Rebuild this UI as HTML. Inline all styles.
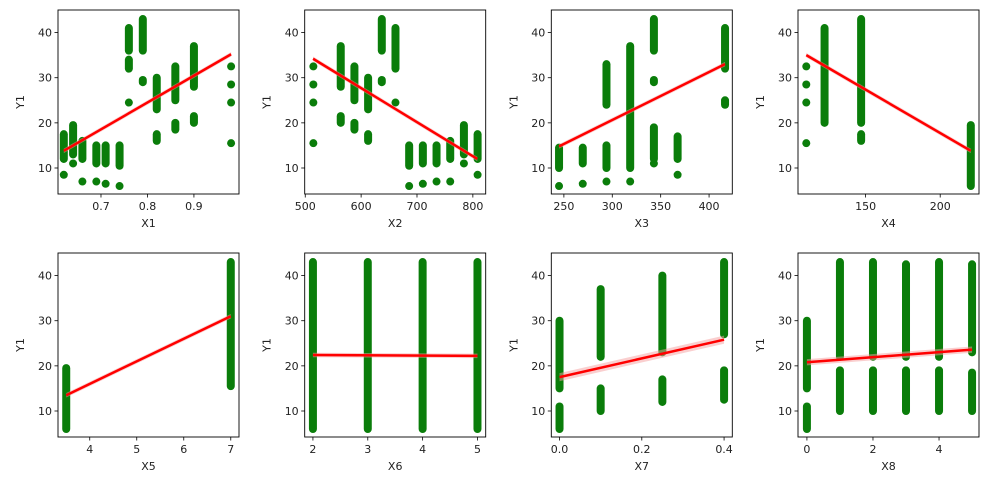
<!DOCTYPE html>
<html><head><meta charset="utf-8"><style>
html,body{margin:0;padding:0;background:#fff;}
svg text{font-family:"DejaVu Sans","Liberation Sans",sans-serif;font-size:11px;fill:#222;}
</style></head><body>
<svg id="s" width="989" height="490" xmlns="http://www.w3.org/2000/svg"></svg>
<script>
const W=181,H=184;
const lefts=[58,304.7,551.3,798], tops=[10,253];
const ylim=[4.24,45];
const P=[
 {n:'X1',xl:[0.6075,0.997],t:[[0.7,'0.7'],[0.8,'0.8'],[0.9,'0.9']],
  c:[[0.62,[[12,17.5],[8.5,8.5]]],[0.64,[[11,11],[13,19.5]]],[0.66,[[12,16],[7,7]]],[0.69,[[11,15],[7,7]]],[0.71,[[11,15],[6.5,6.5]]],[0.74,[[10.5,15],[6,6]]],[0.76,[[32,34],[36,41],[24.5,24.5]]],[0.79,[[36,43],[29,29.5]]],[0.82,[[23,30],[16,17.5]]],[0.86,[[25,32.5],[18.5,20]]],[0.90,[[28,37],[20,21.5]]],[0.98,[[32.5,32.5],[28.5,28.5],[24.5,24.5],[15.5,15.5]]]],
  l:[[0.62,13.8],[0.98,35.2]]},
 {n:'X2',xl:[499,823],t:[[500,'500'],[600,'600'],[700,'700'],[800,'800']],
  c:[[514.5,[[32.5,32.5],[28.5,28.5],[24.5,24.5],[15.5,15.5]]],[563.5,[[28,37],[20,21.5]]],[588,[[25,32.5],[18.5,20]]],[612.5,[[23,30],[16,17.5]]],[637,[[36,43],[29,29.5]]],[661.5,[[32,41],[24.5,24.5]]],[686,[[10.5,15],[6,6]]],[710.5,[[11,15],[6.5,6.5]]],[735,[[11,15],[7,7]]],[759.5,[[12,16],[7,7]]],[784,[[11,11],[13,19.5]]],[808.5,[[12,17.5],[8.5,8.5]]]],
  l:[[514,34.2],[808,12]]},
 {n:'X3',xl:[237,424],t:[[250,'250'],[300,'300'],[350,'350'],[400,'400']],
  c:[[245,[[6,6],[10,14.5]]],[269.5,[[6.5,6.5],[11,14.5]]],[294,[[7,7],[10,15],[24,33]]],[318.5,[[7,7],[10,37]]],[343,[[11,11],[12,19],[29,29.5],[36,43]]],[367.5,[[8.5,8.5],[12,17]]],[416.5,[[24,25],[32,41]]]],
  l:[[245,14.8],[416.5,33]]},
 {n:'X4',xl:[104.7,226],t:[[150,'150'],[200,'200']],
  c:[[110.25,[[15.5,15.5],[24.5,24.5],[28.5,28.5],[32.5,32.5]]],[122.5,[[20,41]]],[147,[[16,17.5],[20,43]]],[220.5,[[6,19.5]]]],
  l:[[110.25,35],[220.5,13.8]]},
 {n:'X5',xl:[3.325,7.175],t:[[4,'4'],[5,'5'],[6,'6'],[7,'7']],
  c:[[3.5,[[6,19.5]]],[7,[[15.5,43]]]],l:[[3.5,13.5],[7,31]]},
 {n:'X6',xl:[1.85,5.15],t:[[2,'2'],[3,'3'],[4,'4'],[5,'5']],
  c:[[2,[[6,43]]],[3,[[6,43]]],[4,[[6,43]]],[5,[[6,43]]]],l:[[2,22.4],[5,22.2]]},
 {n:'X7',xl:[-0.02,0.42],t:[[0,'0.0'],[0.2,'0.2'],[0.4,'0.4']],
  c:[[0,[[6,11],[15,30]]],[0.1,[[10,15],[22,37]]],[0.25,[[12,17],[23,40]]],[0.4,[[12.5,19],[27,43]]]],l:[[0,17.5],[0.4,25.8]],band:0.9},
 {n:'X8',xl:[-0.27,5.21],t:[[0,'0'],[2,'2'],[4,'4']],
  c:[[0,[[6,11],[15,30]]],[1,[[10,19],[22,43]]],[2,[[10,19],[22,43]]],[3,[[10,19],[22,42.5]]],[4,[[10,19],[22,43]]],[5,[[10,18.5],[23,42.5]]]],l:[[0,20.8],[5,23.6]],band:0.7}
];
let o='';
P.forEach((p,i)=>{
 const L=lefts[i%4],T=tops[Math.floor(i/4)];
 const X=v=>L+(v-p.xl[0])/(p.xl[1]-p.xl[0])*W;
 const Y=v=>T+H-(v-ylim[0])/(ylim[1]-ylim[0])*H;
 o+=`<clipPath id="c${i}"><rect x="${L}" y="${T}" width="${W}" height="${H}"/></clipPath><g clip-path="url(#c${i})">`;
 p.c.forEach(([x,rs])=>rs.forEach(([a,b])=>{
  o+=`<line x1="${X(x)}" x2="${X(x)}" y1="${Y(a)}" y2="${Y(b)}" stroke="#0a7d0a" stroke-width="8" stroke-linecap="round"/>`;
 }));
 const [[x1,y1],[x2,y2]]=p.l;
 const b=p.band||0.5;
 o+=`<polygon points="${X(x1)},${Y(y1+b)} ${X(x2)},${Y(y2+b)} ${X(x2)},${Y(y2-b)} ${X(x1)},${Y(y1-b)}" fill="#f5a0a0" opacity="0.5"/>`;
 o+=`<line x1="${X(x1)}" y1="${Y(y1)}" x2="${X(x2)}" y2="${Y(y2)}" stroke="#f00" stroke-width="2.5"/></g>`;
 o+=`<rect x="${L}" y="${T}" width="${W}" height="${H}" fill="none" stroke="#000" stroke-width="0.9"/>`;
 [10,20,30,40].forEach(v=>{const y=Y(v);o+=`<line x1="${L-3.5}" x2="${L}" y1="${y}" y2="${y}" stroke="#000" stroke-width="0.8"/><text x="${L-6}" y="${y+4}" text-anchor="end">${v}</text>`;});
 p.t.forEach(([v,s])=>{const x=X(v);o+=`<line x1="${x}" x2="${x}" y1="${T+H}" y2="${T+H+3.5}" stroke="#000" stroke-width="0.8"/><text x="${x}" y="${T+H+16}" text-anchor="middle">${s}</text>`;});
 o+=`<text x="${L+W/2}" y="${T+H+33}" text-anchor="middle">${p.n}</text>`;
 o+=`<text transform="translate(${L-34},${T+H/2}) rotate(-90)" text-anchor="middle">Y1</text>`;
});
document.getElementById('s').innerHTML=o;
</script>
</body></html>
